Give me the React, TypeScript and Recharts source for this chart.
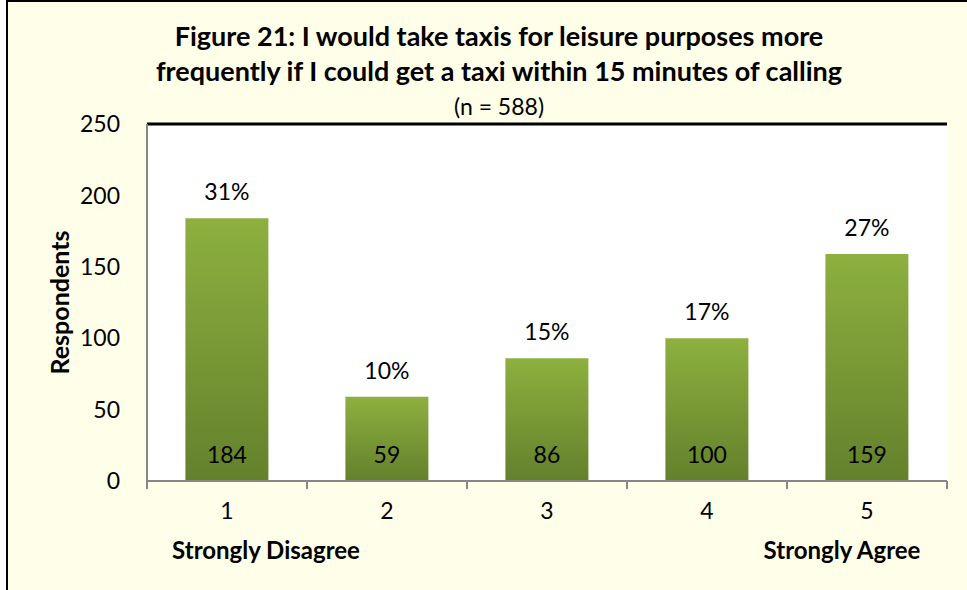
import React from "react";
import { Bar, BarChart, CartesianGrid, LabelList, ReferenceLine, XAxis, YAxis } from "recharts";

const categories = ["1", "2", "3", "4", "5"];
const respondents = [184, 59, 86, 100, 159];
const percents = ["31%", "10%", "15%", "17%", "27%"];
const scaleNotes = ["Strongly Disagree", "", "", "", "Strongly Agree"];
const yTicks = [0, 50, 100, 150, 200, 250];

const FONT = "Lato, 'Open Sans', sans-serif";
const CREAM = "#FFFEE8";

const data = categories.map((c, i) => ({
  cat: c,
  value: respondents[i],
  pct: percents[i],
}));

// excel puts the tick marks between categories, and the scale notes sit under the ends
const CatTick = (props: any) => {
  const { x, y, payload, index } = props;
  const half = 80;
  const note = scaleNotes[index];
  return (
    <g>
      <line x1={x - half} x2={x - half} y1={y - 8} y2={y} stroke="#868686" strokeWidth={2} />
      {index === categories.length - 1 && (
        <line x1={x + half} x2={x + half} y1={y - 8} y2={y} stroke="#868686" strokeWidth={2} />
      )}
      <text x={x} y={y + 30} textAnchor="middle" fontFamily={FONT} fontSize={23} fill="#000">
        {payload.value}
      </text>
      {note && (
        <text
          x={index === 0 ? x + 39 : x - 25}
          y={y + 70}
          textAnchor="middle"
          fontFamily={FONT}
          fontSize={24}
          fontWeight="bold"
          fill="#000"
        >
          {note}
        </text>
      )}
    </g>
  );
};

export default function App() {
  return (
    <div style={{ position: "fixed", left: 0, top: 0, width: 967, height: 590, overflow: "hidden", background: "#fff" }}>
      <div
        style={{
          position: "absolute",
          left: 6,
          top: 0,
          width: 980,
          height: 620,
          border: "2px solid #000",
          background: CREAM,
        }}
      />
      <div
        style={{
          position: "absolute",
          left: 0,
          top: 18,
          width: 998,
          textAlign: "center",
          fontFamily: FONT,
          fontWeight: "bold",
          fontSize: 27,
          lineHeight: "35px",
          color: "#000",
        }}
      >
        Figure 21: I would take taxis for leisure purposes more
        <br />
        frequently if I could get a taxi within 15 minutes of calling
      </div>
      <div
        style={{
          position: "absolute",
          left: 0,
          top: 92,
          width: 998,
          textAlign: "center",
          fontFamily: FONT,
          fontSize: 23,
          color: "#000",
        }}
      >
        (n = 588)
      </div>
      <div style={{ position: "absolute", left: 0, top: 0 }}>
        <BarChart
          width={967}
          height={590}
          data={data}
          margin={{ top: 124, right: 20, left: 87, bottom: 49 }}
          barCategoryGap="24%"
        >
          <defs>
            <linearGradient id="barGreen" x1="0" y1="0" x2="0" y2="1">
              <stop offset="0%" stopColor="#8DB03F" />
              <stop offset="100%" stopColor="#63812C" />
            </linearGradient>
          </defs>
          <CartesianGrid vertical={false} stroke="#868686" strokeWidth={1.5} fill="#fff" />
          <XAxis
            dataKey="cat"
            height={60}
            stroke="#868686"
            strokeWidth={2}
            tickLine={false}
            tick={<CatTick />}
            interval={0}
          />
          <YAxis
            yAxisId="left"
            width={60}
            domain={[0, 250]}
            ticks={yTicks}
            stroke="#868686"
            strokeWidth={2}
            tickLine={false}
            tick={{ fontFamily: FONT, fontSize: 23, fill: "#000" }}
            tickMargin={21}
            label={{
              value: "Respondents",
              angle: -90,
              position: "insideLeft",
              dx: -32,
              dy: 72,
              style: { fontFamily: FONT, fontSize: 25, fontWeight: "bold", fill: "#000" },
            }}
          />
          <YAxis
            yAxisId="right"
            orientation="right"
            width={0}
            domain={[0, 250]}
            ticks={yTicks}
            stroke="#000"
            strokeWidth={3}
            tick={false}
            tickLine={false}
          />
          <ReferenceLine yAxisId="left" y={250} stroke="#000" strokeWidth={3} />
          <Bar yAxisId="left" dataKey="value" fill="url(#barGreen)" isAnimationActive={false}>
            <LabelList
              dataKey="pct"
              position="top"
              offset={18}
              style={{ fontFamily: FONT, fontSize: 23, fill: "#000" }}
            />
            <LabelList
              dataKey="value"
              position="insideBottom"
              offset={18}
              style={{ fontFamily: FONT, fontSize: 23, fill: "#000" }}
            />
          </Bar>
        </BarChart>
      </div>
    </div>
  );
}
